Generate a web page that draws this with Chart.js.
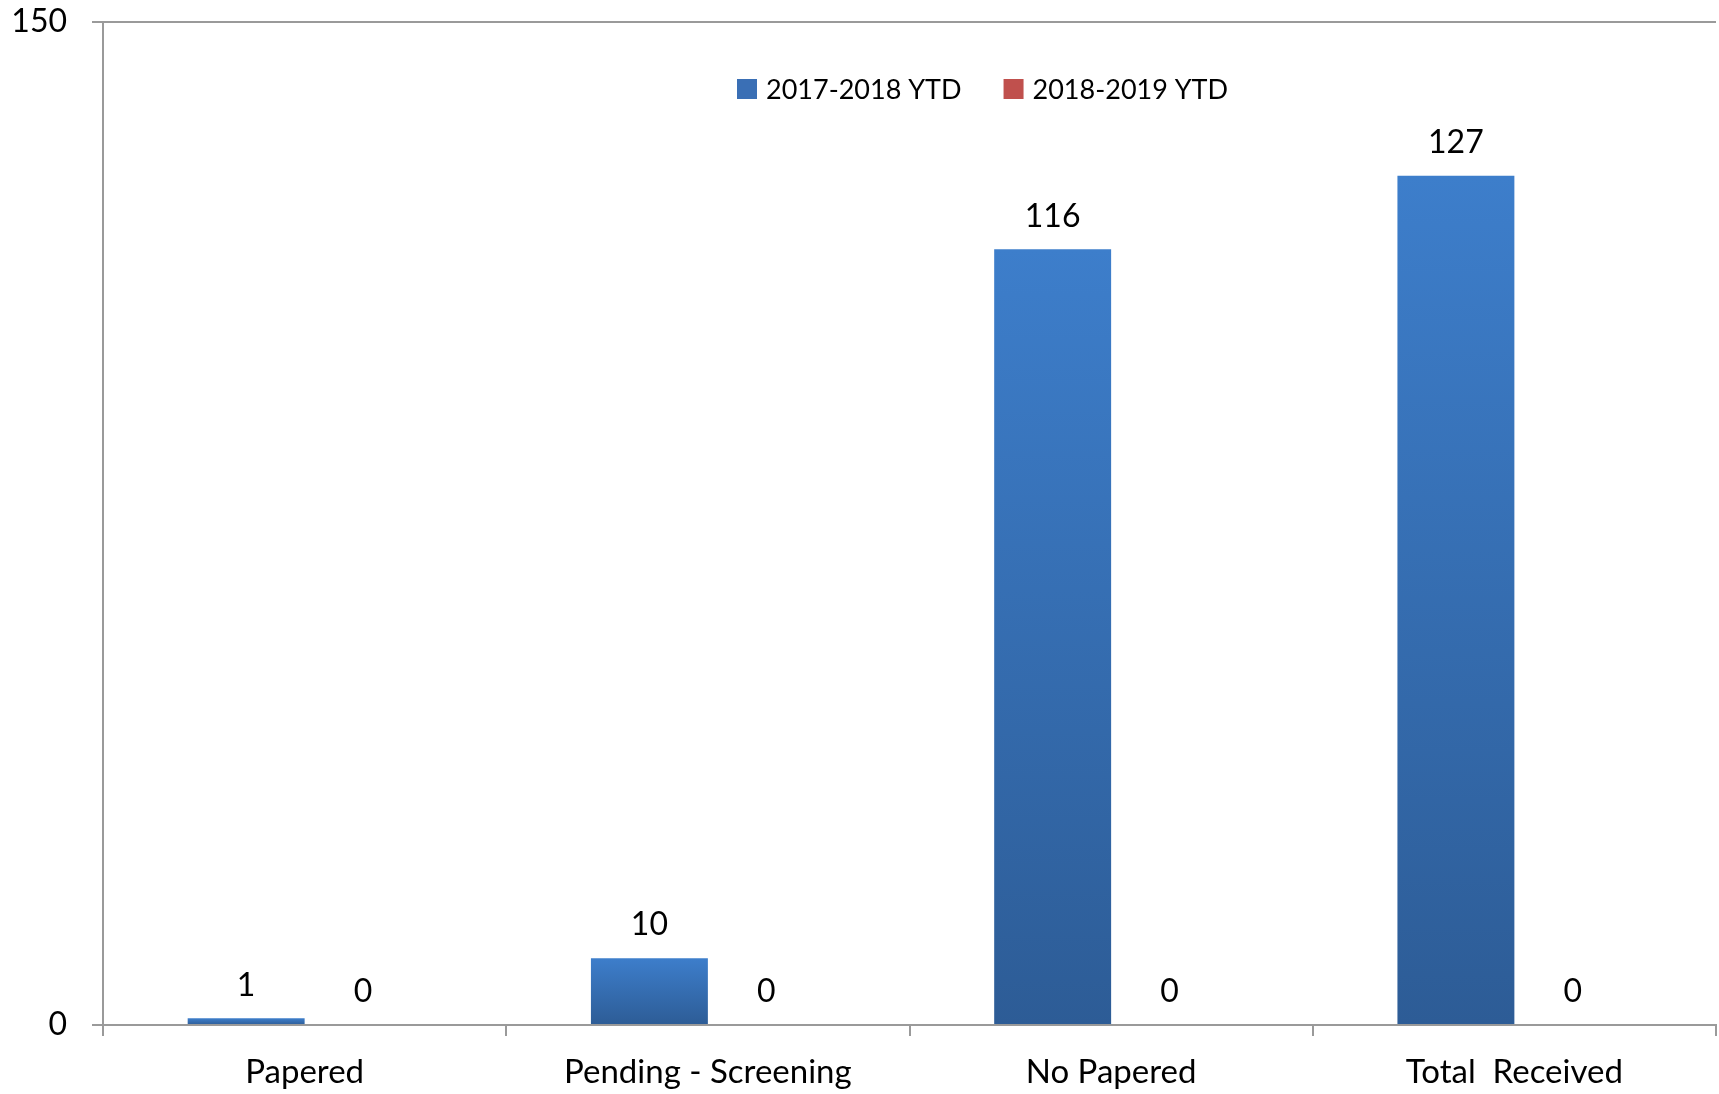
<!DOCTYPE html>
<html>
<head>
<meta charset="utf-8">
<title>Papered / Received YTD</title>
<script src="https://cdn.jsdelivr.net/npm/chart.js@4.4.1/dist/chart.umd.min.js"></script>
<style>
  html, body { margin: 0; padding: 0; background: #fff; }
  #wrap { width: 1719px; height: 1094px; }
</style>
</head>
<body>
<div id="wrap"><canvas id="chart" width="1719" height="1094"></canvas></div>
<script>
// categories and the two year-to-date series
var categories = ['Papered', 'Pending - Screening', 'No Papered', 'Total  Received'];
var ytd2017 = [1, 10, 116, 127];
var ytd2018 = [0, 0, 0, 0];
var seriesNames = ['2017-2018 YTD', '2018-2019 YTD'];
var yTicks = [0, 150];

var FONT = 'Lato, "Open Sans", sans-serif';
var GRID = '#9a9a9a';

// vertical blue gradient per bar, from its top down to the baseline
function blueBar(ctx) {
  var chart = ctx.chart;
  if (!chart.chartArea || ctx.raw == null) return '#3a72bd';
  var y = chart.scales.y;
  var top = y.getPixelForValue(ctx.raw);
  var base = y.getPixelForValue(0);
  if (base - top < 1) return '#3a72bd';
  var g = chart.ctx.createLinearGradient(0, top, 0, base);
  g.addColorStop(0, '#3d7ecb');
  g.addColorStop(1, '#2d5c96');
  return g;
}

// value labels above every bar
var valueLabels = {
  id: 'valueLabels',
  afterDatasetsDraw: function(chart) {
    var c = chart.ctx;
    c.save();
    c.font = '32px ' + FONT;
    c.fillStyle = '#000';
    c.textAlign = 'center';
    c.textBaseline = 'middle';
    chart.data.datasets.forEach(function(ds, i) {
      chart.getDatasetMeta(i).data.forEach(function(bar, j) {
        c.fillText(String(ds.data[j]), bar.x, bar.y - 33);
      });
    });
    c.restore();
  }
};

// legend drawn inside the plot, near the top
var innerLegend = {
  id: 'innerLegend',
  afterDraw: function(chart) {
    var c = chart.ctx;
    var swatches = ['#3a6fb5', '#c0504d'];
    var x = 737, y = 89;
    c.save();
    c.font = '27px ' + FONT;
    c.textBaseline = 'middle';
    c.textAlign = 'left';
    chart.data.datasets.forEach(function(ds, i) {
      c.fillStyle = swatches[i];
      c.fillRect(x, y - 10, 20, 20);
      c.fillStyle = '#000';
      c.fillText(ds.label, x + 29, y + 1);
      x += 29 + c.measureText(ds.label).width + 42;
    });
    c.restore();
  }
};

new Chart(document.getElementById('chart'), {
  type: 'bar',
  data: {
    labels: categories,
    datasets: [
      { label: seriesNames[0], data: ytd2017, backgroundColor: blueBar },
      { label: seriesNames[1], data: ytd2018, backgroundColor: '#c0504d' }
    ]
  },
  options: {
    responsive: false,
    animation: false,
    events: [],
    categoryPercentage: 0.58,
    barPercentage: 1.0,
    layout: { padding: { top: 0, right: 3, bottom: 0, left: 0 } },
    plugins: {
      legend: { display: false },
      tooltip: { enabled: false }
    },
    scales: {
      x: {
        afterFit: function(scale) { scale.height = 69; },
        grid: {
          offset: true,
          drawOnChartArea: false,
          drawTicks: true,
          tickLength: 11,
          color: GRID,
          lineWidth: 2
        },
        border: { color: GRID, width: 2 },
        ticks: {
          color: '#000',
          font: { family: FONT, size: 33 },
          padding: 17,
          maxRotation: 0,
          autoSkip: false
        }
      },
      y: {
        min: yTicks[0],
        max: yTicks[1],
        afterBuildTicks: function(scale) {
          scale.ticks = yTicks.map(function(v) { return { value: v }; });
        },
        afterFit: function(scale) {
          scale.width = 103;
          scale.paddingTop = 22;
          scale.paddingBottom = 0;
        },
        grid: {
          color: GRID,
          lineWidth: 2,
          drawTicks: true,
          tickLength: 11
        },
        border: { color: GRID, width: 2 },
        ticks: {
          color: '#000',
          font: { family: FONT, size: 32 },
          padding: 25
        }
      }
    }
  },
  plugins: [valueLabels, innerLegend]
});
</script>
</body>
</html>
